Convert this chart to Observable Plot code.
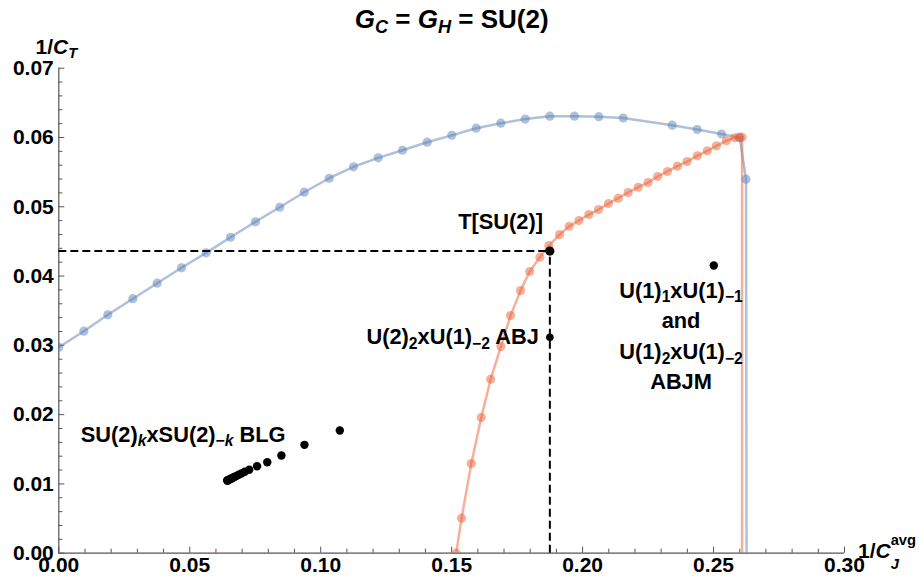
<!DOCTYPE html>
<html><head><meta charset="utf-8">
<script src="https://cdn.jsdelivr.net/npm/d3@7"></script>
<script src="https://cdn.jsdelivr.net/npm/@observablehq/plot@0.6"></script>
<style>
body{margin:0;background:#fff}
svg{font-family:"Liberation Sans",Arial,sans-serif;}
</style>
</head><body><div id="chart"></div>
<script>
// ---- data ----
const blueX = [0, 0.00955, 0.01871, 0.02826, 0.03757, 0.04685, 0.05628, 0.06556, 0.07510, 0.08438, 0.09370, 0.10324, 0.11252, 0.12196, 0.13124, 0.14066, 0.15006, 0.15937, 0.16877, 0.17808, 0.18748, 0.19691, 0.20619, 0.21550, 0.23421, 0.24376, 0.25304, 0.2600, 0.2624];
const blueY = [0.02973, 0.03204, 0.03441, 0.03673, 0.03897, 0.04119, 0.04335, 0.04560, 0.04783, 0.04993, 0.05210, 0.05412, 0.05577, 0.05706, 0.05816, 0.05932, 0.06031, 0.06134, 0.06206, 0.06266, 0.06307, 0.06307, 0.06300, 0.06281, 0.06177, 0.06115, 0.06050, 0.05995, 0.05398];
const blueTailX = [0.2626];
const blueTailY = [0];

const redX = [0.1517, 0.1538, 0.1575, 0.1613, 0.1649, 0.1688, 0.1725, 0.1763, 0.1798, 0.1837, 0.1871, 0.1912, 0.1949, 0.1986, 0.2024, 0.2061, 0.2099, 0.2136, 0.2174, 0.2212, 0.2250, 0.2287, 0.2324, 0.2362, 0.2399, 0.2438, 0.2476, 0.2511, 0.2549, 0.2580, 0.2597, 0.2609];
const redY = [0, 0.00505, 0.01294, 0.01958, 0.02511, 0.02983, 0.03430, 0.03790, 0.04066, 0.04272, 0.04440, 0.04598, 0.04719, 0.04801, 0.04888, 0.04960, 0.05047, 0.05123, 0.05206, 0.05282, 0.05350, 0.05437, 0.05509, 0.05586, 0.05653, 0.05735, 0.05808, 0.05880, 0.05952, 0.05995, 0.06005, 0.06005];
const redTailX = [0.2609];
const redTailY = [0];

const blgX = [0.1073, 0.0938, 0.0850, 0.0796, 0.0757, 0.0727, 0.0710, 0.0697, 0.0687, 0.0679, 0.0672, 0.0666, 0.0661, 0.0657, 0.0653, 0.0650, 0.0648, 0.0646, 0.0645, 0.0644, 0.0643];
const blgY = [0.01771, 0.01564, 0.01410, 0.01313, 0.01256, 0.01204, 0.01175, 0.01151, 0.01132, 0.01116, 0.01103, 0.01092, 0.01082, 0.01075, 0.01067, 0.01061, 0.01058, 0.01054, 0.01052, 0.01050, 0.01048];

const tsu2 = {x: 0.1875, y: 0.0436};
const abj = {x: 0.1875, y: 0.03117};
const abjm = {x: 0.2501, y: 0.04152};

const xTicks = [0, 0.05, 0.10, 0.15, 0.20, 0.25, 0.30];
const yTicks = [0, 0.01, 0.02, 0.03, 0.04, 0.05, 0.06, 0.07];

const titleText = "*G*_{*C*} = *G*_{*H*} = SU(2)";
const yLabel = "1/*C*_{*T*}";
const xLabel = "1/*C*_{*J*}~^{avg}";
const tsuLabel = "T[SU(2)]";
const abjLabel = "U(2)_{2}xU(1)_{−2} ABJ";
const blgLabel = "SU(2)_{*k*}xSU(2)_{−*k*} BLG";
const abjmLines = ["U(1)_{1}xU(1)_{−1}", "and", "U(1)_{2}xU(1)_{−2}", "ABJM"];
const abjmDy = [25, 55.5, 86.3, 116.5];

// ---- tables ----
const blueDots = blueX.map((x, i) => ({x, y: blueY[i]}));
const blueLine = blueDots.concat(blueTailX.map((x, i) => ({x, y: blueTailY[i]})));
const redDots = redX.map((x, i) => ({x, y: redY[i]}));
const redLine = redDots.concat(redTailX.map((x, i) => ({x, y: redTailY[i]})));
const blg = blgX.map((x, i) => ({x, y: blgY[i]}));

const W = 919, H = 585;
const mL = 58.3, mR = 75, mT = 67.7, mB = 32.3;
const innerW = W - mL - mR, innerH = H - mT - mB;
const xMinor = d3.range(0, 31).map(i => i / 100).filter(v => Math.round(v * 100) % 5 !== 0);
const yMinor = d3.range(0, 36).map(i => i / 500).filter(v => Math.round(v * 500) % 5 !== 0);

const AX = "#555";
const BLUE = "#5e81b5", RED = "#eb6235";
const FONT = 21, AFONT = 21.8;

const textOpts = {fontSize: AFONT, fontWeight: "bold", fill: "black", lineAnchor: "middle"};

const marks = [
  Plot.ruleX([0], {stroke: AX, strokeWidth: 1.2}),
  Plot.ruleY([0], {stroke: AX, strokeWidth: 1.2}),
  Plot.tickX(xTicks, {x: d => d, insetTop: innerH - 6, stroke: AX}),
  Plot.tickX(xMinor, {x: d => d, insetTop: innerH - 4, stroke: AX}),
  Plot.tickY(yTicks, {y: d => d, insetRight: innerW - 6, stroke: AX}),
  Plot.tickY(yMinor, {y: d => d, insetRight: innerW - 4, stroke: AX}),
  Plot.axisX(xTicks, {tickSize: 0, tickPadding: 4, tickFormat: d3.format(".2f"), fontSize: FONT, fontWeight: "bold", label: null}),
  Plot.axisY(yTicks, {tickSize: 0, tickPadding: 5, tickFormat: d3.format(".2f"), fontSize: FONT, fontWeight: "bold", label: null}),
  Plot.line(blueLine, {x: "x", y: "y", stroke: BLUE, strokeOpacity: 0.5, strokeWidth: 2.5, clip: true}),
  Plot.line(redLine, {x: "x", y: "y", stroke: RED, strokeOpacity: 0.5, strokeWidth: 2.5, clip: true}),
  Plot.dot(blueDots, {x: "x", y: "y", r: 4.6, fill: BLUE, fillOpacity: 0.5, clip: true}),
  Plot.dot(redDots, {x: "x", y: "y", r: 4.6, fill: RED, fillOpacity: 0.5, clip: true}),
  Plot.ruleY([tsu2], {y: "y", x1: 0, x2: "x", stroke: "black", strokeWidth: 2, strokeDasharray: "8,4"}),
  Plot.ruleX([tsu2], {x: "x", y1: 0, y2: "y", stroke: "black", strokeWidth: 2, strokeDasharray: "8,4"}),
  Plot.dot(blg, {x: "x", y: "y", r: 4.2, fill: "black"}),
  Plot.dot([tsu2], {x: "x", y: "y", r: 4.6, fill: "black"}),
  Plot.dot([abj], {x: "x", y: "y", r: 3.8, fill: "black"}),
  Plot.dot([abjm], {x: "x", y: "y", r: 4.2, fill: "black"}),
  Plot.text([tsu2], {x: "x", y: "y", text: () => tsuLabel, textAnchor: "middle", dx: -49.3, dy: -29.3, ...textOpts}),
  Plot.text([abj], {x: "x", y: "y", text: () => abjLabel, textAnchor: "end", dx: -11, dy: 0, ...textOpts}),
  Plot.text([blg[0]], {x: "x", y: "y", text: () => blgLabel, textAnchor: "end", dx: -54.3, dy: 4.2, ...textOpts}),
  ...abjmLines.map((t, i) => Plot.text([abjm], {x: "x", y: "y", text: () => t, textAnchor: "middle", dx: -32.8, dy: abjmDy[i], ...textOpts})),
  Plot.text([titleText], {frameAnchor: "top", text: d => d, textAnchor: "middle", dy: -48.7, ...textOpts, fontSize: 26}),
  Plot.text([yLabel], {frameAnchor: "top-left", text: d => d, textAnchor: "start", dx: -23.3, dy: -20.5, ...textOpts, fontSize: FONT}),
  Plot.text([xLabel], {frameAnchor: "bottom-right", text: d => d, textAnchor: "start", dx: 13.5, dy: -2, ...textOpts, fontSize: FONT})
];

const svg = Plot.plot({
  width: W, height: H,
  marginLeft: mL, marginRight: mR, marginTop: mT, marginBottom: mB,
  x: {domain: [0, 0.3]},
  y: {domain: [0, 0.07]},
  style: {background: "white", color: "black", fontFamily: '"Liberation Sans", Arial, sans-serif', overflow: "visible"},
  marks
});
document.getElementById("chart").appendChild(svg);

// ---- rich text: sub/superscripts and italics ----
const NS = "http://www.w3.org/2000/svg";
function parse(s) {
  const segs = []; let buf = "", it = false, mode = null, back = false;
  const push = () => { if (buf) { segs.push({t: buf, it, mode, back}); back = false; } buf = ""; };
  for (let i = 0; i < s.length; i++) {
    const c = s[i];
    if ((c === "_" || c === "^") && s[i + 1] === "{") { push(); mode = c === "_" ? "sub" : "sup"; i++; continue; }
    if (c === "}" && mode) { push(); mode = null; continue; }
    if (c === "*") { push(); it = !it; continue; }
    if (c === "~") { push(); back = true; continue; }
    buf += c;
  }
  push();
  return segs;
}
const special = {};
special[xLabel] = {size: 0.7, sub: 0.55, sup: 0.6};
special[titleText] = {size: 0.7, sub: 0.2, sup: 0.4};
special[yLabel] = {size: 0.7, sub: 0.18, sup: 0.4};
svg.querySelectorAll("text").forEach(el => {
  const s = el.textContent;
  if (!/[_^]\{|\*|~/.test(s)) return;
  const fs = parseFloat(getComputedStyle(el).fontSize) || FONT;
  const cfg = special[s] || {size: 0.72, sub: 0.22, sup: 0.4};
  el.textContent = "";
  let cur = 0, prev = null;
  for (const g of parse(s)) {
    const t = document.createElementNS(NS, "tspan");
    t.textContent = g.t;
    if (g.it) t.setAttribute("font-style", "italic");
    let target = 0;
    if (g.mode) {
      t.setAttribute("font-size", (fs * cfg.size).toFixed(2));
      target = g.mode === "sub" ? cfg.sub * fs : -cfg.sup * fs;
    }
    if (target !== cur) { t.setAttribute("dy", (target - cur).toFixed(2)); cur = target; }
    el.appendChild(t);
    if (g.back && prev) t.setAttribute("dx", (-prev.getComputedTextLength()).toFixed(2));
    prev = t;
  }
});
</script></body></html>
